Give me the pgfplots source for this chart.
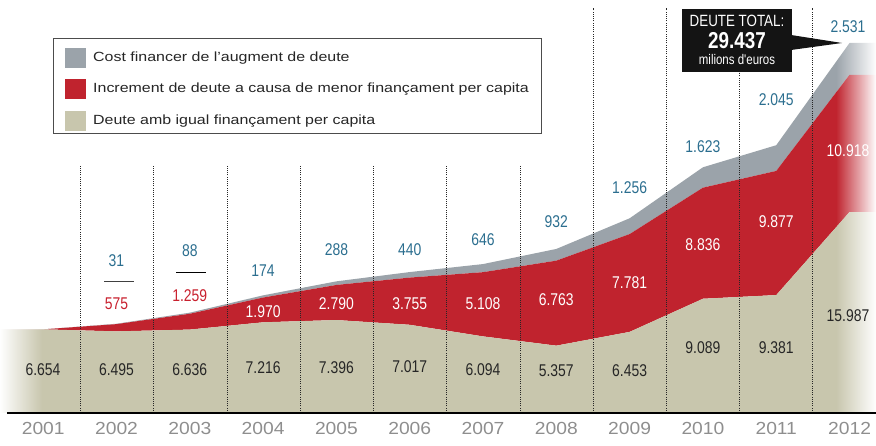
\documentclass[border=0pt]{standalone}
\usepackage{pgfplots}
\pgfplotsset{compat=1.18}
\usepackage{fontspec}
\setmainfont{Liberation Sans}
\newfontfamily\cond[FakeStretch=0.82]{Liberation Sans}
\newfontfamily\wide[FakeStretch=1.1]{Liberation Sans}
\newfontfamily\legf[FakeStretch=1.2]{Liberation Sans}
\usetikzlibrary{fadings}
\definecolor{beige}{HTML}{C8C6AD}
\definecolor{dred}{HTML}{C0232E}
\definecolor{dgrey}{HTML}{9BA3AA}
\definecolor{numblue}{HTML}{2B6E8F}
\definecolor{yeargray}{HTML}{8E8E8E}
\definecolor{labred}{HTML}{C8202E}
\begin{document}
\begin{tikzpicture}[x=1pt,y=1pt]
\begin{axis}[
  scale only axis, width=876pt, height=413pt,
  at={(0,0)}, anchor=south west,
  xmin=2000.41, xmax=2012.361, ymin=0, ymax=32856,
  hide axis, stack plots=y,
]
\addplot[fill=beige, draw=none] coordinates {
 (2000.41,6654) (2001,6654) (2002,6495) (2003,6636) (2004,7216) (2005,7396) (2006,7017)
 (2007,6094) (2008,5357) (2009,6453) (2010,9089) (2011,9381) (2012,15987) (2012.361,15987)} \closedcycle;
\addplot[fill=dred, draw=none] coordinates {
 (2000.41,0) (2001,0) (2002,575) (2003,1259) (2004,1970) (2005,2790) (2006,3755)
 (2007,5108) (2008,6763) (2009,7781) (2010,8836) (2011,9877) (2012,10918) (2012.361,10918)} \closedcycle;
\addplot[fill=dgrey, draw=none] coordinates {
 (2000.41,0) (2001,0) (2002,31) (2003,88) (2004,174) (2005,288) (2006,440)
 (2007,646) (2008,932) (2009,1256) (2010,1623) (2011,2045) (2012,2531) (2012.361,2531)} \closedcycle;
\end{axis}
% edge fades
\fill[white, path fading=east] (0,0) rectangle (42,110);
\fill[white, path fading=west] (836,0) rectangle (876,400);
% dotted dividers
\foreach \xx/\tp in {80/165,153/165,227/165,300/165,373/165,446/165,520/165,593/8,666/8,739/72,812/8}
  {\draw[black!85, line width=0.7pt, dash pattern=on 0.9pt off 1.3pt] (\xx,0) -- (\xx,413-\tp);}
% baseline
\draw[line width=1.3pt] (7,0) -- (876,0);
% years
\foreach \i in {1,...,9} {\node[font=\wide\fontsize{17.5}{18}\selectfont, text=yeargray] at ({(\i-0.41)*73.3},-15) {200\i};}
\foreach \i in {10,11,12} {\node[font=\wide\fontsize{17.5}{18}\selectfont, text=yeargray] at ({(\i-0.41)*73.3},-15) {20\i};}
% value labels
\begin{scope}[every node/.style={font=\cond\fontsize{17}{17}\selectfont}]
% beige
\node[text=black!85] at (43,43) {6.654};
\node[text=black!85] at (116.5,43) {6.495};
\node[text=black!85] at (189.8,43) {6.636};
\node[text=black!85] at (263.1,45) {7.216};
\node[text=black!85] at (336.4,45) {7.396};
\node[text=black!85] at (409.7,46) {7.017};
\node[text=black!85] at (483,43) {6.094};
\node[text=black!85] at (556.3,42) {5.357};
\node[text=black!85] at (629.6,42) {6.453};
\node[text=black!85] at (702.9,65) {9.089};
\node[text=black!85] at (776.2,65) {9.381};
\node[text=black!85] at (848,97) {15.987};
% red
\node[text=labred] at (116.5,109) {575};
\node[text=labred] at (189.8,117) {1.259};
\node[text=white] at (263.1,101) {1.970};
\node[text=white] at (336.4,109) {2.790};
\node[text=white] at (409.7,109) {3.755};
\node[text=white] at (483,109) {5.108};
\node[text=white] at (556.3,113) {6.763};
\node[text=white] at (629.6,130) {7.781};
\node[text=white] at (702.9,168) {8.836};
\node[text=white] at (776.2,191) {9.877};
\node[text=white] at (848,262) {10.918};
% grey
\node[text=numblue] at (116.5,152) {31};
\node[text=numblue] at (189.8,162) {88};
\node[text=numblue] at (263.1,142) {174};
\node[text=numblue] at (336.4,163) {288};
\node[text=numblue] at (409.7,163) {440};
\node[text=numblue] at (483,173) {646};
\node[text=numblue] at (556.3,191) {932};
\node[text=numblue] at (629.6,225) {1.256};
\node[text=numblue] at (702.9,266) {1.623};
\node[text=numblue] at (776.2,313) {2.045};
\node[text=numblue] at (848,386) {2.531};
\end{scope}
\draw[black!75, line width=1pt] (104,131) -- (134,131);
\draw[black, line width=1pt] (176,140) -- (206,140);
% total box
\fill[black!92] (682,404) rectangle (792,341);
\fill[black!92] (791,378) -- (842,370) -- (791,363) -- cycle;
\node[text=white, font=\cond\fontsize{16.3}{17}\selectfont] at (737,392) {DEUTE TOTAL:};
\node[text=white, font=\cond\bfseries\fontsize{23}{24}\selectfont] at (737,372.5) {29.437};
\node[text=white, font=\cond\fontsize{14}{15}\selectfont, anchor=base] at (737,348) {milions d'euros};
% legend
\draw[black!70, line width=0.8pt, fill=white] (53,375) rectangle (541,280);
\fill[dgrey] (65,345) rectangle (86,365);
\fill[dred] (65,313.5) rectangle (86,333.5);
\fill[beige] (65,282) rectangle (86,302);
\begin{scope}[every node/.style={font=\legf\fontsize{13.3}{14}\selectfont, text=black!85, anchor=west, inner sep=0pt}]
\node at (93,355) {Cost financer de l’augment de deute};
\node at (93,323.5) {Increment de deute a causa de menor finançament per capita};
\node at (93,292) {Deute amb igual finançament per capita};
\end{scope}
\pgfresetboundingbox
\useasboundingbox (0,-33) rectangle (876,413);
\end{tikzpicture}
\end{document}
